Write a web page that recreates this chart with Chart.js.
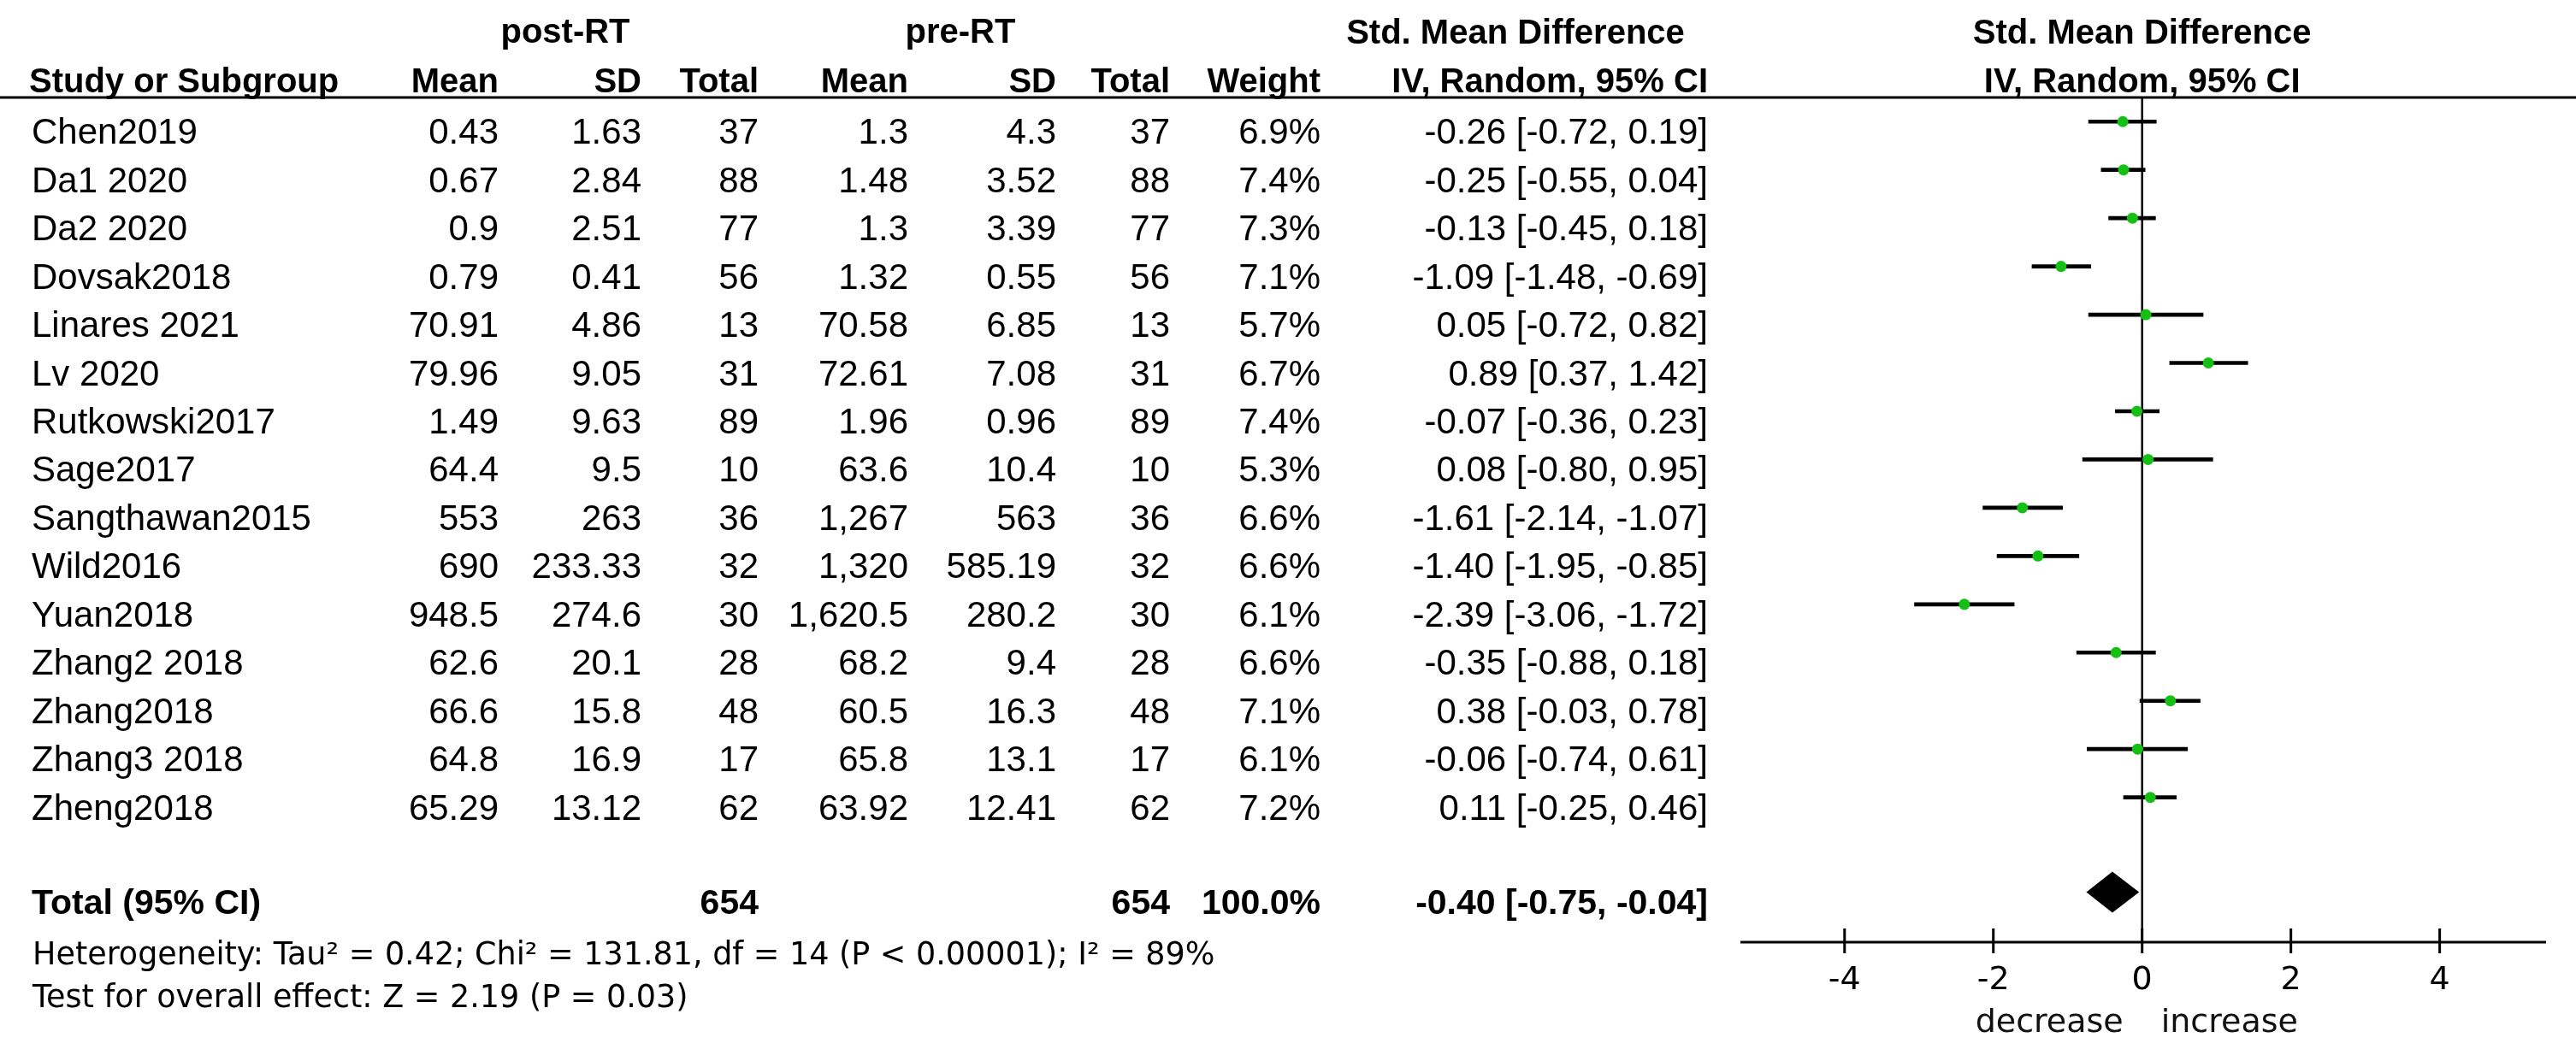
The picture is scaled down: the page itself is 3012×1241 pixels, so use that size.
<!DOCTYPE html>
<html>
<head>
<meta charset="utf-8">
<script src="https://cdn.jsdelivr.net/npm/chart.js@4.4.0/dist/chart.umd.min.js"></script>
<style>
  html, body { margin: 0; padding: 0; background: #fff; }
  #wrap { width: 3012px; height: 1241px; position: relative; }
</style>
</head>
<body>
<div id="wrap"><canvas id="forest"></canvas></div>
<script>
// study rows
const studies = ["Chen2019", "Da1 2020", "Da2 2020", "Dovsak2018", "Linares 2021", "Lv 2020", "Rutkowski2017",
  "Sage2017", "Sangthawan2015", "Wild2016", "Yuan2018", "Zhang2 2018", "Zhang2018", "Zhang3 2018", "Zheng2018"];
const postMean = [0.43, 0.67, 0.9, 0.79, 70.91, 79.96, 1.49, 64.4, 553, 690, 948.5, 62.6, 66.6, 64.8, 65.29];
const postSD = [1.63, 2.84, 2.51, 0.41, 4.86, 9.05, 9.63, 9.5, 263, 233.33, 274.6, 20.1, 15.8, 16.9, 13.12];
const postN = [37, 88, 77, 56, 13, 31, 89, 10, 36, 32, 30, 28, 48, 17, 62];
const preMean = [1.3, 1.48, 1.3, 1.32, 70.58, 72.61, 1.96, 63.6, 1267, 1320, 1620.5, 68.2, 60.5, 65.8, 63.92];
const preSD = [4.3, 3.52, 3.39, 0.55, 6.85, 7.08, 0.96, 10.4, 563, 585.19, 280.2, 9.4, 16.3, 13.1, 12.41];
const preN = [37, 88, 77, 56, 13, 31, 89, 10, 36, 32, 30, 28, 48, 17, 62];
const weight = [6.9, 7.4, 7.3, 7.1, 5.7, 6.7, 7.4, 5.3, 6.6, 6.6, 6.1, 6.6, 7.1, 6.1, 7.2];
const smd = [-0.26, -0.25, -0.13, -1.09, 0.05, 0.89, -0.07, 0.08, -1.61, -1.40, -2.39, -0.35, 0.38, -0.06, 0.11];
const lower = [-0.72, -0.55, -0.45, -1.48, -0.72, 0.37, -0.36, -0.80, -2.14, -1.95, -3.06, -0.88, -0.03, -0.74, -0.25];
const upper = [0.19, 0.04, 0.18, -0.69, 0.82, 1.42, 0.23, 0.95, -1.07, -0.85, -1.72, 0.18, 0.78, 0.61, 0.46];

// pooled result
const totalPost = 654, totalPre = 654, totalWeight = 100.0;
const totalSmd = -0.40, totalLow = -0.75, totalHigh = -0.04;
const heterogeneity = "Heterogeneity: Tau\u00B2 = 0.42; Chi\u00B2 = 131.81, df = 14 (P < 0.00001); I\u00B2 = 89%";
const overallTest = "Test for overall effect: Z = 2.19 (P = 0.03)";

// axis
const xTicks = [-4, -2, 0, 2, 4];

// layout bits
const totalRow = 16, axisRow = 17;
const colRight = [583, 750, 887, 1062, 1235, 1368, 1544, 1997];
const SANS = "'Liberation Sans', Arial, sans-serif";
const WIDE = "'DejaVu Sans', Verdana, sans-serif";

const fmt = v => v.toLocaleString("en-US", { maximumFractionDigits: 2 });
const ci = (m, lo, hi) => `${m.toFixed(2)} [${lo.toFixed(2)}, ${hi.toFixed(2)}]`;

function txt(ctx, s, x, y, align, font) {
  ctx.font = font;
  ctx.textAlign = align;
  ctx.fillText(s, x, y);
}

const forestPlugin = {
  id: "forestTable",
  beforeDatasetsDraw(chart) {
    const { ctx, scales: { x, y } } = chart;
    const x0 = x.getPixelForValue(0);
    ctx.save();
    ctx.strokeStyle = "#000";
    ctx.lineWidth = 2.5;
    ctx.beginPath();
    ctx.moveTo(x0, y.getPixelForValue(-0.5));
    ctx.lineTo(x0, y.getPixelForValue(axisRow));
    ctx.stroke();
    ctx.restore();
  },
  afterDatasetsDraw(chart) {
    const { ctx, scales: { x, y } } = chart;
    // pooled diamond
    const xl = x.getPixelForValue(totalLow), xm = x.getPixelForValue(totalSmd), xr = x.getPixelForValue(totalHigh);
    const yc = y.getPixelForValue(totalRow) - 2;
    ctx.save();
    ctx.fillStyle = "#000";
    ctx.beginPath();
    ctx.moveTo(xl, yc);
    ctx.lineTo(xm, yc - 24);
    ctx.lineTo(xr, yc);
    ctx.lineTo(xm, yc + 24);
    ctx.closePath();
    ctx.fill();

    // x axis
    const ya = y.getPixelForValue(axisRow);
    ctx.strokeStyle = "#000";
    ctx.lineWidth = 3;
    ctx.beginPath();
    ctx.moveTo(x.left, ya);
    ctx.lineTo(x.right, ya);
    xTicks.forEach(v => {
      const px = x.getPixelForValue(v);
      ctx.moveTo(px, ya - 16);
      ctx.lineTo(px, ya + 13);
    });
    ctx.stroke();
    ctx.fillStyle = "#000";
    ctx.textBaseline = "alphabetic";
    xTicks.forEach(v => txt(ctx, String(v), x.getPixelForValue(v), ya + 55, "center", `38px ${WIDE}`));
    const x0 = x.getPixelForValue(0);
    ctx.fillStyle = "#111";
    txt(ctx, "decrease", x0 - 22, ya + 105, "right", `38px ${WIDE}`);
    txt(ctx, "increase", x0 + 22, ya + 105, "left", `38px ${WIDE}`);
    ctx.restore();
  },
  afterDraw(chart) {
    const { ctx, scales: { x, y } } = chart;
    ctx.save();
    ctx.fillStyle = "#000";
    ctx.textBaseline = "alphabetic";
    // header rule
    ctx.fillRect(0, y.getPixelForValue(-0.5) - 1.5, chart.width, 3);

    const hb = `bold 40px ${SANS}`;
    txt(ctx, "post-RT", 661, 50, "center", hb);
    txt(ctx, "pre-RT", 1123, 50, "center", hb);
    txt(ctx, "Std. Mean Difference", 1772, 51, "center", hb);
    txt(ctx, "Std. Mean Difference", x.getPixelForValue(0), 51, "center", hb);
    txt(ctx, "Study or Subgroup", 34, 108, "left", hb);
    ["Mean", "SD", "Total", "Mean", "SD", "Total", "Weight", "IV, Random, 95% CI"]
      .forEach((h, k) => txt(ctx, h, colRight[k], 108, "right", hb));
    txt(ctx, "IV, Random, 95% CI", x.getPixelForValue(0), 108, "center", hb);

    const rf = `42px ${SANS}`;
    studies.forEach((s, i) => {
      const by = y.getPixelForValue(i) + 26;
      txt(ctx, s, 37, by, "left", rf);
      const cells = [fmt(postMean[i]), fmt(postSD[i]), String(postN[i]), fmt(preMean[i]), fmt(preSD[i]),
        String(preN[i]), weight[i].toFixed(1) + "%", ci(smd[i], lower[i], upper[i])];
      cells.forEach((c, k) => txt(ctx, c, colRight[k], by, "right", rf));
    });

    const tb = y.getPixelForValue(totalRow) + 23;
    const bf = `bold 41px ${SANS}`;
    txt(ctx, "Total (95% CI)", 37, tb, "left", bf);
    txt(ctx, String(totalPost), colRight[2], tb, "right", bf);
    txt(ctx, String(totalPre), colRight[5], tb, "right", bf);
    txt(ctx, totalWeight.toFixed(1) + "%", colRight[6], tb, "right", bf);
    txt(ctx, ci(totalSmd, totalLow, totalHigh), colRight[7], tb, "right", bf);

    const ya = y.getPixelForValue(axisRow);
    txt(ctx, heterogeneity, 38, ya + 26, "left", `36.5px ${WIDE}`);
    txt(ctx, overallTest, 38, ya + 76, "left", `36.5px ${WIDE}`);
    ctx.restore();
  }
};

const ctx = document.getElementById("forest").getContext("2d");
new Chart(ctx, {
  type: "bar",
  data: {
    datasets: [
      {
        type: "scatter",
        label: "Std. Mean Difference",
        data: smd.map((v, i) => ({ x: v, y: i })),
        backgroundColor: "#14c014",
        borderWidth: 0,
        pointRadius: 6.5,
        order: 0
      },
      {
        type: "bar",
        label: "95% CI",
        data: lower.map((lo, i) => ({ x: [lo, upper[i]], y: i })),
        backgroundColor: "#000",
        borderWidth: 0,
        borderSkipped: false,
        barThickness: 4,
        order: 1
      }
    ]
  },
  options: {
    indexAxis: "y",
    responsive: true,
    maintainAspectRatio: false,
    animation: false,
    devicePixelRatio: 1,
    layout: { padding: { left: 2035, right: 35, top: 114, bottom: 139 } },
    scales: {
      x: { type: "linear", min: -5.4, max: 5.43, offset: false, display: false },
      y: { type: "linear", min: -0.5, max: axisRow, reverse: true, offset: false, display: false }
    },
    plugins: { legend: { display: false }, tooltip: { enabled: false } }
  },
  plugins: [forestPlugin]
});
</script>
</body>
</html>
